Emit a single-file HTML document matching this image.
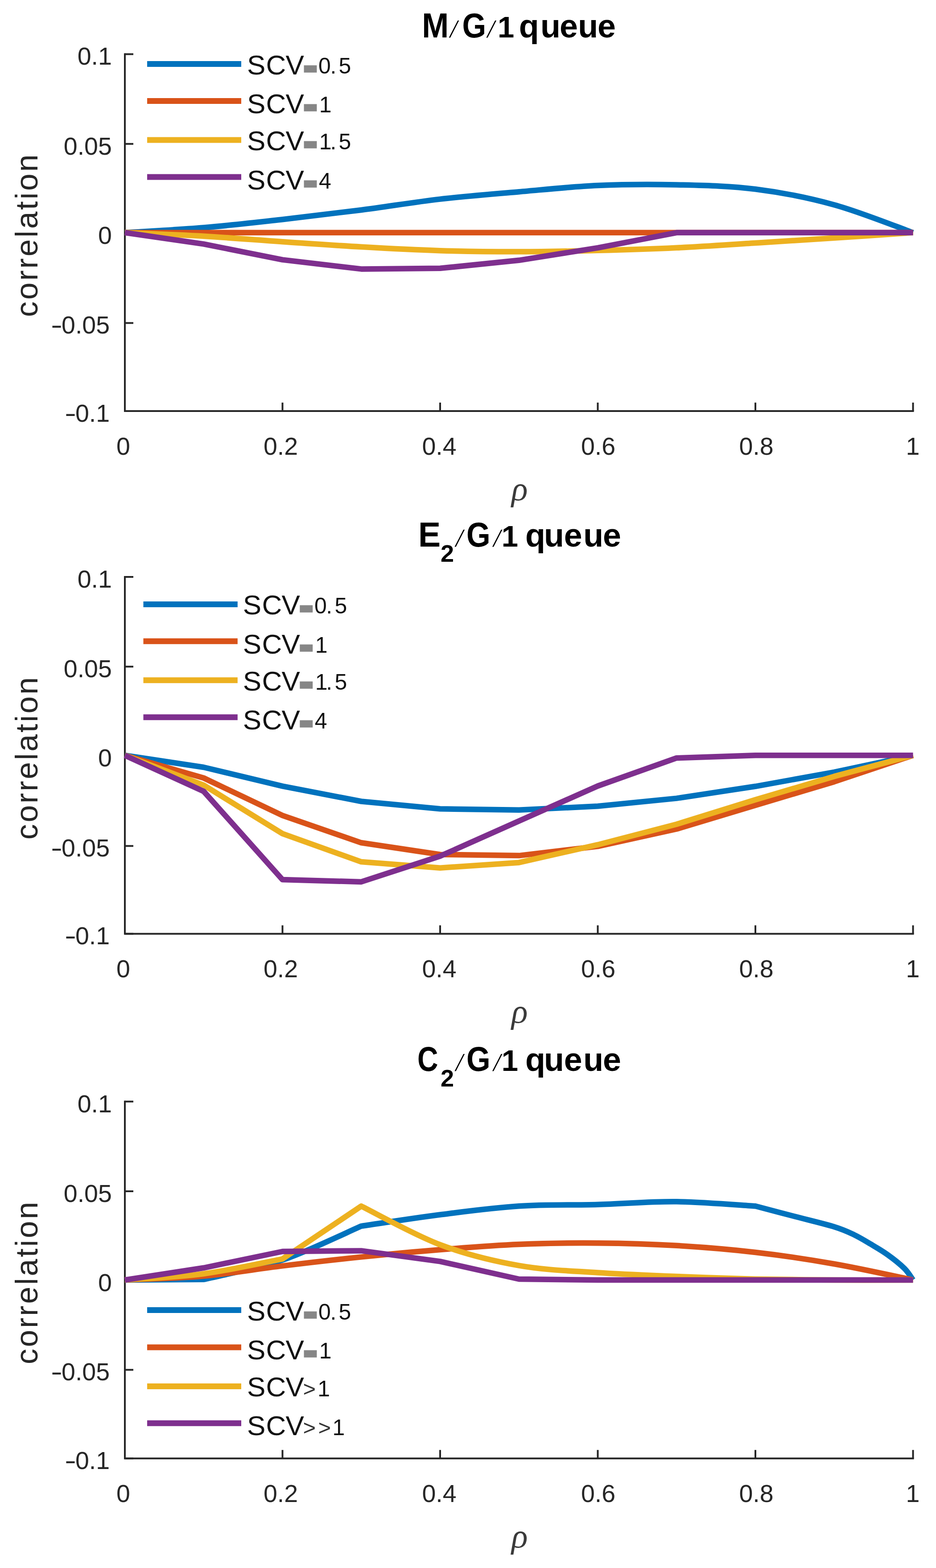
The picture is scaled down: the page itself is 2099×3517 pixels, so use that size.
<!DOCTYPE html>
<html><head><meta charset="utf-8"><title>correlation vs rho</title>
<style>
html,body{margin:0;padding:0;background:#fff;}
body{width:2099px;height:3517px;overflow:hidden;}
svg{display:block;}
text{font-family:'Liberation Sans', Arial, sans-serif;fill:#262626;}
.tk{font-size:55.5px;}
</style></head><body>
<svg width="2099" height="3517" viewBox="0 0 2099 3517">
<rect width="2099" height="3517" fill="#fff"/>
<g id="ax1">
<path d="M280.0,119.6 V922.0 H2049.5" fill="none" stroke="#262626" stroke-width="4"/>
<path d="M280.0,121.5 h19 M280.0,322.8 h19 M280.0,521.8 h19 M280.0,724.6 h19 M280.0,922.0 h19 M280.0,922.0 v-19 M633.5,922.0 v-19 M987.0,922.0 v-19 M1340.5,922.0 v-19 M1694.0,922.0 v-19 M2047.5,922.0 v-19" fill="none" stroke="#262626" stroke-width="4"/>
<path d="M280.0,521.8 C309.5,519.9 397.8,515.5 456.8,510.6 C515.7,505.7 574.6,498.8 633.5,492.2 C692.4,485.6 751.3,478.6 810.2,471.0 C869.2,463.4 928.1,453.4 987.0,446.6 C1045.9,439.8 1104.8,435.2 1163.8,430.2 C1222.7,425.1 1281.6,418.7 1340.5,416.1 C1399.4,413.5 1458.3,413.2 1517.2,414.5 C1576.2,415.9 1635.1,416.7 1694.0,424.2 C1752.9,431.6 1811.8,443.1 1870.8,459.4 C1929.7,475.6 2018.0,511.4 2047.5,521.8" fill="none" stroke="#0072BD" stroke-width="12.5" stroke-linejoin="round" stroke-linecap="butt"/>
<path d="M280.0,521.8 L456.8,521.8 L633.5,521.8 L810.2,521.8 L987.0,521.8 L1163.8,521.8 L1340.5,521.8 L1517.2,521.8 L1694.0,521.8 L1870.8,521.8 L2047.5,521.8" fill="none" stroke="#D95319" stroke-width="12.5" stroke-linejoin="round" stroke-linecap="butt"/>
<path d="M280.0,521.8 C309.5,523.1 397.8,526.4 456.8,529.8 C515.7,533.2 574.6,538.2 633.5,542.2 C692.4,546.2 751.3,550.5 810.2,553.8 C869.2,557.2 928.1,560.4 987.0,562.2 C1045.9,564.0 1104.8,564.7 1163.8,564.6 C1222.7,564.6 1281.6,563.3 1340.5,561.8 C1399.4,560.4 1458.3,558.6 1517.2,555.8 C1576.2,553.0 1635.1,548.7 1694.0,545.0 C1752.9,541.3 1811.8,537.7 1870.8,533.8 C1929.7,529.9 2018.0,523.8 2047.5,521.8" fill="none" stroke="#EDB120" stroke-width="12.5" stroke-linejoin="round" stroke-linecap="butt"/>
<path d="M280.0,521.8 L456.8,547.4 L633.5,582.6 L810.2,603.4 L987.0,601.8 L1163.8,583.8 L1340.5,555.8 L1517.2,521.8 L1694.0,521.8 L1870.8,521.8 L2047.5,521.8" fill="none" stroke="#7E2F8E" stroke-width="12.5" stroke-linejoin="round" stroke-linecap="butt"/>
<text class="tk" x="250.8" y="145.3" text-anchor="end">0.1</text>
<text class="tk" x="250.8" y="346.6" text-anchor="end">0.05</text>
<text class="tk" x="250.8" y="546.8" text-anchor="end">0</text>
<text class="tk" x="246.1" y="748.4" text-anchor="end"><tspan textLength="26" lengthAdjust="spacingAndGlyphs">-</tspan><tspan dx="-2">0.05</tspan></text>
<text class="tk" x="246.1" y="945.8" text-anchor="end"><tspan textLength="26" lengthAdjust="spacingAndGlyphs">-</tspan><tspan dx="-2">0.1</tspan></text>
<text class="tk" x="276.5" y="1019.8" text-anchor="middle">0</text>
<text class="tk" x="629.5" y="1019.8" text-anchor="middle">0.2</text>
<text class="tk" x="985.0" y="1019.8" text-anchor="middle">0.4</text>
<text class="tk" x="1341.5" y="1019.8" text-anchor="middle">0.6</text>
<text class="tk" x="1696.0" y="1019.8" text-anchor="middle">0.8</text>
<text class="tk" x="2047.0" y="1019.8" text-anchor="middle">1</text>
<text x="1147.1" y="1122.0" style="font-family:'Liberation Serif',serif;font-style:italic;font-size:76px;fill:#3a3a3a">ρ</text>
<text x="84.2" y="710.9" transform="rotate(-90 84.2 710.9)" style="font-size:69.6px;" textLength="364.3" lengthAdjust="spacing">correlation</text>
<text y="84.0" style="font-weight:bold;fill:#000"><tspan x="946.3" style="font-size:78px" textLength="60.0" lengthAdjust="spacingAndGlyphs">M</tspan><tspan x="1009.3" style="font-family:'Liberation Serif',serif;font-style:italic;font-weight:normal;font-size:57px">/</tspan><tspan x="1036.5" style="font-size:78px" textLength="53.6" lengthAdjust="spacingAndGlyphs">G</tspan><tspan x="1093.1" style="font-family:'Liberation Serif',serif;font-style:italic;font-weight:normal;font-size:57px">/</tspan><tspan x="1115.9" style="font-size:67px">1</tspan><tspan style="font-size:73.5px"> </tspan><tspan x="1163.8 1211.9 1254.9 1296.2 1340.0" style="font-size:73.5px">queue</tspan></text>
<path d="M330.0,143.4 H541.0" stroke="#0072BD" stroke-width="13.0"/>
<text y="166.6" style="fill:#111"><tspan x="553.9 596.6 640.5" style="font-size:62px">SCV</tspan><tspan x="683.4" dy="-2.0" style="font-size:30px;font-weight:bold;fill:#868686;stroke:#868686;stroke-width:5.2px" textLength="25" lengthAdjust="spacingAndGlyphs">=</tspan><tspan dy="2.0"></tspan><tspan x="714.0" style="font-size:50px">0</tspan><tspan x="740.4" style="font-size:50px">.</tspan><tspan x="759.6" style="font-size:50px">5</tspan></text>
<path d="M330.0,226.4 H541.0" stroke="#D95319" stroke-width="13.0"/>
<text y="253.9" style="fill:#111"><tspan x="553.9 596.6 640.5" style="font-size:62px">SCV</tspan><tspan x="683.4" dy="-2.0" style="font-size:30px;font-weight:bold;fill:#868686;stroke:#868686;stroke-width:5.2px" textLength="25" lengthAdjust="spacingAndGlyphs">=</tspan><tspan dy="2.0"></tspan><tspan x="715.8" style="font-size:50px">1</tspan></text>
<path d="M330.0,313.9 H541.0" stroke="#EDB120" stroke-width="13.0"/>
<text y="336.8" style="fill:#111"><tspan x="553.9 596.6 640.5" style="font-size:62px">SCV</tspan><tspan x="683.4" dy="-2.0" style="font-size:30px;font-weight:bold;fill:#868686;stroke:#868686;stroke-width:5.2px" textLength="25" lengthAdjust="spacingAndGlyphs">=</tspan><tspan dy="2.0"></tspan><tspan x="715.8" style="font-size:50px">1</tspan><tspan x="740.4" style="font-size:50px">.</tspan><tspan x="759.6" style="font-size:50px">5</tspan></text>
<path d="M330.0,397.0 H541.0" stroke="#7E2F8E" stroke-width="13.0"/>
<text y="424.7" style="fill:#111"><tspan x="553.9 596.6 640.5" style="font-size:62px">SCV</tspan><tspan x="683.4" dy="-2.0" style="font-size:30px;font-weight:bold;fill:#868686;stroke:#868686;stroke-width:5.2px" textLength="25" lengthAdjust="spacingAndGlyphs">=</tspan><tspan dy="2.0"></tspan><tspan x="714.9" style="font-size:50px">4</tspan></text>
</g>
<g id="ax2">
<path d="M280.0,1292.0 V2094.4 H2049.5" fill="none" stroke="#262626" stroke-width="4"/>
<path d="M280.0,1294.0 h19 M280.0,1495.2 h19 M280.0,1694.2 h19 M280.0,1897.5 h19 M280.0,2094.4 h19 M280.0,2094.4 v-19 M633.5,2094.4 v-19 M987.0,2094.4 v-19 M1340.5,2094.4 v-19 M1694.0,2094.4 v-19 M2047.5,2094.4 v-19" fill="none" stroke="#262626" stroke-width="4"/>
<path d="M280.0,1694.2 L456.8,1721.0 L633.5,1763.4 L810.2,1797.5 L987.0,1814.3 L1163.8,1816.7 L1340.5,1808.3 L1517.2,1790.6 L1694.0,1763.8 L1870.8,1731.8 L2047.5,1694.2" fill="none" stroke="#0072BD" stroke-width="12.5" stroke-linejoin="round" stroke-linecap="butt"/>
<path d="M280.0,1694.2 L456.8,1745.0 L633.5,1829.1 L810.2,1890.3 L987.0,1916.7 L1163.8,1919.1 L1340.5,1898.3 L1517.2,1859.5 L1694.0,1806.3 L1870.8,1753.4 L2047.5,1694.2" fill="none" stroke="#D95319" stroke-width="12.5" stroke-linejoin="round" stroke-linecap="butt"/>
<path d="M280.0,1694.2 L456.8,1761.0 L633.5,1869.9 L810.2,1933.1 L987.0,1946.7 L1163.8,1934.7 L1340.5,1894.7 L1517.2,1848.7 L1694.0,1793.8 L1870.8,1741.4 L2047.5,1694.2" fill="none" stroke="#EDB120" stroke-width="12.5" stroke-linejoin="round" stroke-linecap="butt"/>
<path d="M280.0,1694.2 L456.8,1775.0 L633.5,1973.1 L810.2,1977.9 L987.0,1920.3 L1163.8,1841.5 L1340.5,1763.0 L1517.2,1700.2 L1694.0,1694.2 L1870.8,1694.2 L2047.5,1694.2" fill="none" stroke="#7E2F8E" stroke-width="12.5" stroke-linejoin="round" stroke-linecap="butt"/>
<text class="tk" x="250.8" y="1317.8" text-anchor="end">0.1</text>
<text class="tk" x="250.8" y="1519.0" text-anchor="end">0.05</text>
<text class="tk" x="250.8" y="1719.2" text-anchor="end">0</text>
<text class="tk" x="246.1" y="1921.3" text-anchor="end"><tspan textLength="26" lengthAdjust="spacingAndGlyphs">-</tspan><tspan dx="-2">0.05</tspan></text>
<text class="tk" x="246.1" y="2118.2" text-anchor="end"><tspan textLength="26" lengthAdjust="spacingAndGlyphs">-</tspan><tspan dx="-2">0.1</tspan></text>
<text class="tk" x="276.5" y="2192.2" text-anchor="middle">0</text>
<text class="tk" x="629.5" y="2192.2" text-anchor="middle">0.2</text>
<text class="tk" x="985.0" y="2192.2" text-anchor="middle">0.4</text>
<text class="tk" x="1341.5" y="2192.2" text-anchor="middle">0.6</text>
<text class="tk" x="1696.0" y="2192.2" text-anchor="middle">0.8</text>
<text class="tk" x="2047.0" y="2192.2" text-anchor="middle">1</text>
<text x="1147.1" y="2294.4" style="font-family:'Liberation Serif',serif;font-style:italic;font-size:76px;fill:#3a3a3a">ρ</text>
<text x="84.2" y="1883.3" transform="rotate(-90 84.2 1883.3)" style="font-size:69.6px;" textLength="364.3" lengthAdjust="spacing">correlation</text>
<text y="1225.5" style="font-weight:bold;fill:#000"><tspan x="937.9" style="font-size:78px" textLength="50.1" lengthAdjust="spacingAndGlyphs">E</tspan><tspan x="987.9" dy="34.8" style="font-size:54px">2</tspan><tspan x="1021.9" dy="-34.8" style="font-family:'Liberation Serif',serif;font-style:italic;font-weight:normal;font-size:57px">/</tspan><tspan x="1046.0" style="font-size:78px" textLength="53.6" lengthAdjust="spacingAndGlyphs">G</tspan><tspan x="1106.4" style="font-family:'Liberation Serif',serif;font-style:italic;font-weight:normal;font-size:57px">/</tspan><tspan x="1124.7" style="font-size:67px">1</tspan><tspan style="font-size:73.5px"> </tspan><tspan x="1178.0 1220.1 1264.7 1308.2 1352.0" style="font-size:73.5px">queue</tspan></text>
<path d="M321.5,1355.4 H532.8" stroke="#0072BD" stroke-width="13.0"/>
<text y="1378.4" style="fill:#111"><tspan x="544.8 587.5 631.4" style="font-size:62px">SCV</tspan><tspan x="674.3" dy="-2.0" style="font-size:30px;font-weight:bold;fill:#868686;stroke:#868686;stroke-width:5.2px" textLength="25" lengthAdjust="spacingAndGlyphs">=</tspan><tspan dy="2.0"></tspan><tspan x="704.9" style="font-size:50px">0</tspan><tspan x="731.3" style="font-size:50px">.</tspan><tspan x="750.5" style="font-size:50px">5</tspan></text>
<path d="M321.5,1438.3 H532.8" stroke="#D95319" stroke-width="13.0"/>
<text y="1466.0" style="fill:#111"><tspan x="544.8 587.5 631.4" style="font-size:62px">SCV</tspan><tspan x="674.3" dy="-2.0" style="font-size:30px;font-weight:bold;fill:#868686;stroke:#868686;stroke-width:5.2px" textLength="25" lengthAdjust="spacingAndGlyphs">=</tspan><tspan dy="2.0"></tspan><tspan x="706.7" style="font-size:50px">1</tspan></text>
<path d="M321.5,1525.7 H532.8" stroke="#EDB120" stroke-width="13.0"/>
<text y="1548.8" style="fill:#111"><tspan x="544.8 587.5 631.4" style="font-size:62px">SCV</tspan><tspan x="674.3" dy="-2.0" style="font-size:30px;font-weight:bold;fill:#868686;stroke:#868686;stroke-width:5.2px" textLength="25" lengthAdjust="spacingAndGlyphs">=</tspan><tspan dy="2.0"></tspan><tspan x="706.7" style="font-size:50px">1</tspan><tspan x="731.3" style="font-size:50px">.</tspan><tspan x="750.5" style="font-size:50px">5</tspan></text>
<path d="M321.5,1608.8 H532.8" stroke="#7E2F8E" stroke-width="13.0"/>
<text y="1635.8" style="fill:#111"><tspan x="544.8 587.5 631.4" style="font-size:62px">SCV</tspan><tspan x="674.3" dy="-2.0" style="font-size:30px;font-weight:bold;fill:#868686;stroke:#868686;stroke-width:5.2px" textLength="25" lengthAdjust="spacingAndGlyphs">=</tspan><tspan dy="2.0"></tspan><tspan x="705.8" style="font-size:50px">4</tspan></text>
</g>
<g id="ax3">
<path d="M280.0,2468.8 V3271.2 H2049.5" fill="none" stroke="#262626" stroke-width="4"/>
<path d="M280.0,2470.8 h19 M280.0,2672.0 h19 M280.0,2871.0 h19 M280.0,3072.5 h19 M280.0,3271.3 h19 M280.0,3271.2 v-19 M633.5,3271.2 v-19 M987.0,3271.2 v-19 M1340.5,3271.2 v-19 M1694.0,3271.2 v-19 M2047.5,3271.2 v-19" fill="none" stroke="#262626" stroke-width="4"/>
<path d="M280.0,2871.0 L456.8,2869.8 C486.2,2862.5 574.6,2846.1 633.5,2826.2 C692.4,2806.2 780.8,2762.8 810.2,2750.1 C839.7,2745.9 928.1,2732.0 987.0,2724.5 C1045.9,2717.1 1104.8,2709.1 1163.8,2705.3 C1222.7,2701.5 1281.6,2703.4 1340.5,2701.7 C1399.4,2700.0 1458.3,2694.7 1517.2,2695.3 C1576.2,2695.9 1664.5,2703.6 1694.0,2705.3 C1708.7,2709.2 1752.9,2720.8 1782.4,2728.5 C1811.8,2736.3 1848.7,2744.9 1870.8,2751.7 C1892.8,2758.5 1901.4,2762.9 1914.9,2769.3 C1928.5,2775.8 1939.4,2782.6 1952.1,2790.2 C1964.7,2797.7 1978.3,2805.4 1990.9,2814.6 C2003.6,2823.7 2018.6,2835.6 2028.1,2845.0 C2037.5,2854.4 2044.3,2866.7 2047.5,2871.0" fill="none" stroke="#0072BD" stroke-width="12.5" stroke-linejoin="round" stroke-linecap="butt"/>
<path d="M280.0,2871.0 C309.5,2869.5 397.8,2867.5 456.8,2862.2 C515.7,2856.9 574.6,2846.5 633.5,2839.4 C692.4,2832.2 751.3,2825.4 810.2,2819.4 C869.2,2813.3 928.1,2807.7 987.0,2803.0 C1045.9,2798.2 1104.8,2793.4 1163.8,2791.0 C1222.7,2788.5 1281.6,2787.7 1340.5,2788.2 C1399.4,2788.6 1458.3,2790.3 1517.2,2793.8 C1576.2,2797.2 1635.1,2802.1 1694.0,2809.0 C1752.9,2815.8 1811.8,2824.6 1870.8,2835.0 C1929.7,2845.3 2018.0,2865.0 2047.5,2871.0" fill="none" stroke="#D95319" stroke-width="12.5" stroke-linejoin="round" stroke-linecap="butt"/>
<path d="M280.0,2871.0 C309.5,2868.7 397.8,2864.9 456.8,2857.0 C515.7,2849.1 604.0,2829.3 633.5,2823.8 L810.2,2705.3 C839.7,2719.7 928.1,2769.5 987.0,2791.8 C1045.9,2814.0 1104.8,2828.1 1163.8,2838.6 C1222.7,2849.1 1281.6,2850.5 1340.5,2854.6 C1399.4,2858.7 1458.3,2860.6 1517.2,2863.0 C1576.2,2865.4 1664.5,2868.0 1694.0,2869.0 C1723.5,2869.3 1811.8,2870.7 1870.8,2871.0 C1929.7,2871.3 2018.0,2871.0 2047.5,2871.0" fill="none" stroke="#EDB120" stroke-width="12.5" stroke-linejoin="round" stroke-linecap="butt"/>
<path d="M280.0,2871.0 L456.8,2843.8 L633.5,2807.0 L810.2,2805.4 L987.0,2829.4 L1163.8,2869.0 L1340.5,2871.0 L1517.2,2871.0 L1694.0,2871.0 L1870.8,2871.0 L2047.5,2871.0" fill="none" stroke="#7E2F8E" stroke-width="12.5" stroke-linejoin="round" stroke-linecap="butt"/>
<text class="tk" x="250.8" y="2494.6" text-anchor="end">0.1</text>
<text class="tk" x="250.8" y="2695.8" text-anchor="end">0.05</text>
<text class="tk" x="250.8" y="2896.0" text-anchor="end">0</text>
<text class="tk" x="246.1" y="3096.3" text-anchor="end"><tspan textLength="26" lengthAdjust="spacingAndGlyphs">-</tspan><tspan dx="-2">0.05</tspan></text>
<text class="tk" x="246.1" y="3295.1" text-anchor="end"><tspan textLength="26" lengthAdjust="spacingAndGlyphs">-</tspan><tspan dx="-2">0.1</tspan></text>
<text class="tk" x="276.5" y="3369.0" text-anchor="middle">0</text>
<text class="tk" x="629.5" y="3369.0" text-anchor="middle">0.2</text>
<text class="tk" x="985.0" y="3369.0" text-anchor="middle">0.4</text>
<text class="tk" x="1341.5" y="3369.0" text-anchor="middle">0.6</text>
<text class="tk" x="1696.0" y="3369.0" text-anchor="middle">0.8</text>
<text class="tk" x="2047.0" y="3369.0" text-anchor="middle">1</text>
<text x="1147.1" y="3471.2" style="font-family:'Liberation Serif',serif;font-style:italic;font-size:76px;fill:#3a3a3a">ρ</text>
<text x="84.2" y="3060.1" transform="rotate(-90 84.2 3060.1)" style="font-size:69.6px;" textLength="364.3" lengthAdjust="spacing">correlation</text>
<text y="2402.1" style="font-weight:bold;fill:#000"><tspan x="936.1" style="font-size:78px" textLength="46.5" lengthAdjust="spacingAndGlyphs">C</tspan><tspan x="987.9" dy="34.8" style="font-size:54px">2</tspan><tspan x="1021.9" dy="-34.8" style="font-family:'Liberation Serif',serif;font-style:italic;font-weight:normal;font-size:57px">/</tspan><tspan x="1046.0" style="font-size:78px" textLength="53.6" lengthAdjust="spacingAndGlyphs">G</tspan><tspan x="1106.4" style="font-family:'Liberation Serif',serif;font-style:italic;font-weight:normal;font-size:57px">/</tspan><tspan x="1124.7" style="font-size:67px">1</tspan><tspan style="font-size:73.5px"> </tspan><tspan x="1178.0 1220.1 1264.7 1308.2 1352.0" style="font-size:73.5px">queue</tspan></text>
<path d="M330.0,2938.6 H541.0" stroke="#0072BD" stroke-width="13.0"/>
<text y="2961.6" style="fill:#111"><tspan x="553.9 596.6 640.5" style="font-size:62px">SCV</tspan><tspan x="683.4" dy="-2.0" style="font-size:30px;font-weight:bold;fill:#868686;stroke:#868686;stroke-width:5.2px" textLength="25" lengthAdjust="spacingAndGlyphs">=</tspan><tspan dy="2.0"></tspan><tspan x="714.0" style="font-size:50px">0</tspan><tspan x="740.4" style="font-size:50px">.</tspan><tspan x="759.6" style="font-size:50px">5</tspan></text>
<path d="M330.0,3021.9 H541.0" stroke="#D95319" stroke-width="13.0"/>
<text y="3048.9" style="fill:#111"><tspan x="553.9 596.6 640.5" style="font-size:62px">SCV</tspan><tspan x="683.4" dy="-2.0" style="font-size:30px;font-weight:bold;fill:#868686;stroke:#868686;stroke-width:5.2px" textLength="25" lengthAdjust="spacingAndGlyphs">=</tspan><tspan dy="2.0"></tspan><tspan x="715.8" style="font-size:50px">1</tspan></text>
<path d="M330.0,3109.4 H541.0" stroke="#EDB120" stroke-width="13.0"/>
<text y="3131.8" style="fill:#111"><tspan x="553.9 596.6 640.5" style="font-size:62px">SCV</tspan><tspan x="679.5" style="font-size:49px;fill:#333">></tspan><tspan x="712.2" style="font-size:50px">1</tspan></text>
<path d="M330.0,3192.3 H541.0" stroke="#7E2F8E" stroke-width="13.0"/>
<text y="3218.7" style="fill:#111"><tspan x="553.9 596.6 640.5" style="font-size:62px">SCV</tspan><tspan x="679.5" style="font-size:49px;fill:#333">></tspan><tspan x="713.6" style="font-size:49px;fill:#333">></tspan><tspan x="745.6" style="font-size:50px">1</tspan></text>
</g>
</svg>
</body></html>
